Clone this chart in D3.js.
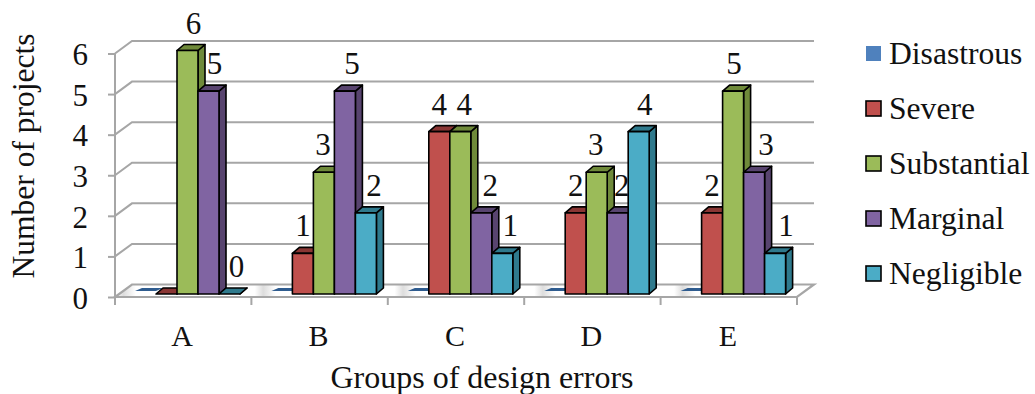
<!DOCTYPE html>
<html><head><meta charset="utf-8">
<script src="https://cdn.jsdelivr.net/npm/d3@7"></script>
<style>html,body{margin:0;padding:0;background:#fff}svg{display:block}text{font-family:"Liberation Serif",serif;fill:#111}</style>
</head><body><div id="c"></div>
<script>
const categories = ["A","B","C","D","E"];
const seriesNames = ["Disastrous","Severe","Substantial","Marginal","Negligible"];
const disastrous = [0,0,0,0,0];
const severe = [0,1,4,2,2];
const substantial = [6,3,4,3,5];
const marginal = [5,5,2,2,3];
const negligible = [0,2,1,4,1];
const yTicks = [0,1,2,3,4,5,6];
const xTitle = "Groups of design errors";
const yTitle = "Number of projects";

const seriesValues = [disastrous,severe,substantial,marginal,negligible];
const front = ["#4F81BD","#C0504D","#9BBB59","#8064A2","#4BACC6"];
const side = ["#2F5C8F","#8A3634","#6F8A3A","#58446F","#2F7A8D"];
// which labels show, and their hand-placed horizontal shifts (series x category)
const labelShown = [[0,0,0,0,0],[0,1,1,1,1],[1,1,1,1,1],[1,1,1,1,1],[1,1,1,1,1]];
const labelShift = [[0,0,0,0,0],[0,0,0,0,0],[6,-1,4,-1,1],[6,7,9,4,12],[7,8,8,6,11]];

const W=1035,H=394, dx=17, dy=-12.5, barDx=7, barDy=-6;
const svg=d3.select("#c").append("svg").attr("width",W).attr("height",H);
const x=d3.scaleBand().domain(categories).range([115,797]).paddingInner(0).paddingOuter(0);
const y=d3.scaleLinear().domain([0,6]).range([297,53.5]);
const inner=d3.scaleBand().domain(seriesNames).range([20,125]);
const defs=svg.append("defs");
const g=defs.append("linearGradient").attr("id","floor");
const gs=[];
categories.forEach((c,i)=>{const a=i/5;gs.push([a,"#fff"],[a+0.012,"#ddd"],[a+0.03,"#fff"]);});
gs.push([1,"#fff"]);
gs.forEach(s=>g.append("stop").attr("offset",s[0]).attr("stop-color",s[1]));

const grid="#A6A6A6";
// floor
svg.append("path").attr("d",`M${x.range()[0]},${y(0)}L${x.range()[1]},${y(0)}L${x.range()[1]+dx},${y(0)+dy}L${x.range()[0]+dx},${y(0)+dy}Z`)
 .attr("fill","url(#floor)").attr("stroke",grid).attr("stroke-width",2.2);
// gridlines + left wall
yTicks.filter(t=>t>0).forEach(t=>{
 svg.append("path").attr("d",`M${x.range()[0]},${y(t)}L${x.range()[0]+dx},${y(t)+dy}L${x.range()[1]+dx},${y(t)+dy}`)
  .attr("fill","none").attr("stroke",grid).attr("stroke-width",2);
});
// axes with d3 axis
const ax=svg.append("g").attr("transform",`translate(${x.range()[0]},0)`).call(d3.axisLeft(y).tickValues(yTicks).tickFormat(d3.format("d")).tickSize(7).tickPadding(8));
ax.selectAll("line,path").attr("stroke",grid).attr("stroke-width",2);
ax.select("path.domain").attr("d",`M0,${y(6)}V${y(0)}`);
ax.selectAll("text").attr("font-size",31).attr("font-family","Liberation Serif").attr("fill","#111").attr("x",-27).attr("dy","0.36em");
const ticksX=svg.append("g");
d3.range(categories.length+1).forEach(i=>{
 const px=x.range()[0]+i*x.step();
 ticksX.append("line").attr("x1",px).attr("x2",px).attr("y1",y(0)).attr("y2",y(0)+8).attr("stroke",grid).attr("stroke-width",2);
});
categories.forEach(c=>svg.append("text").attr("x",x(c)+x.bandwidth()/2-1).attr("y",346).attr("text-anchor","middle").attr("font-size",30).text(c));
// bars
const base=y(0)-3, unit=(y(0)-y(1));
categories.forEach((c,ci)=>{
 seriesNames.forEach((s,si)=>{
  const v=seriesValues[si][ci];
  const x0=x(c)+inner(s), w=inner.bandwidth(), top=base-v*unit;
  const stroke=si===0?"none":"#000", sw=1.6;
  const sh=si===0?-3:0;
  const g=svg.append("g").attr("stroke",stroke).attr("stroke-width",sw).attr("stroke-linejoin","round");
  g.append("path").attr("d",`M${x0+w},${base}L${x0+w+barDx},${base+barDy}L${x0+w+barDx},${top+barDy}L${x0+w},${top}Z`).attr("fill",side[si]);
  g.append("path").attr("d",`M${x0},${top+sh}L${x0+w},${top+sh}L${x0+w+barDx},${top+barDy}L${x0+barDx},${top+barDy}Z`).attr("fill",side[si]);
  if(v>0) g.append("rect").attr("x",x0).attr("y",top).attr("width",w).attr("height",base-top).attr("fill",front[si]);
 });
});
// labels
categories.forEach((c,ci)=>{
 seriesNames.forEach((s,si)=>{
  if(!labelShown[si][ci]) return;
  const v=seriesValues[si][ci];
  svg.append("text").attr("x",x(c)+inner(s)+inner.bandwidth()/2+labelShift[si][ci]).attr("y",base-v*unit-17)
   .attr("text-anchor","middle").attr("font-size",31).text(v);
 });
});
// legend
seriesNames.forEach((s,i)=>{
 const cy=54+i*55;
 svg.append("rect").attr("x",866).attr("y",cy-8).attr("width",15).attr("height",15).attr("fill",front[i]).attr("stroke",i===0?"none":"#000").attr("stroke-width",1.6);
 svg.append("text").attr("x",889).attr("y",cy+10).attr("font-size",31.6).text(s);
});
svg.append("text").attr("x",482).attr("y",388).attr("text-anchor","middle").attr("font-size",32).text(xTitle);
svg.append("text").attr("transform","translate(34,156) rotate(-90)").attr("text-anchor","middle").attr("font-size",31.5).text(yTitle);
</script></body></html>
